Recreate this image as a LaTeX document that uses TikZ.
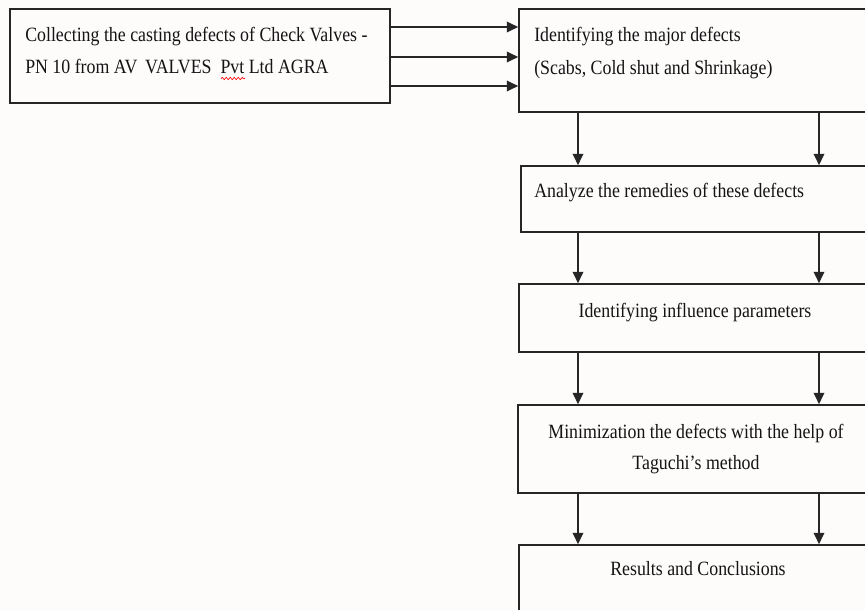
\documentclass[tikz,border=0pt]{standalone}
\usepackage{fontspec}
\setmainfont{Liberation Serif}[FakeStretch=0.88]
\usetikzlibrary{arrows.meta,fit,decorations.pathmorphing}
\definecolor{bgc}{RGB}{254,251,251}
\begin{document}
\begin{tikzpicture}[x=0.75pt,y=-0.75pt,
  box/.style={draw=black!85, line width=1.3pt, inner sep=0pt, fit={#1}},
  txt/.style={inner sep=0pt, font=\fontsize{15.2pt}{18pt}\selectfont, text=black!92},
  arr/.style={draw=black!85, line width=1.1pt, -{Triangle[length=8.5pt,width=8pt]}}]
\path[use as bounding box] (0,0) rectangle (865,610);
\clip (0,0) rectangle (865,610);
\fill[bgc] (0,0) rectangle (865,610);
% boxes
\node[box={(10,9)(390,103)}] (b1) {};
\node[box={(519,9)(873,112)}] (b2) {};
\node[box={(521,166)(873,232)}] (b3) {};
\node[box={(519,284)(873,352)}] (b4) {};
\node[box={(518,405)(873,493)}] (b5) {};
\node[box={(519,545)(873,640)}] (b6) {};
% texts
\node[txt, anchor=base west] (t1a) at (25,42) {Collecting the casting defects of Check Valves -};
\node[txt, anchor=base west] (t1b) at (25,74) {PN 10 from AV\ \,VALVES\ \ Pvt Ltd AGRA};
\draw[red, line width=0.5pt, decorate, decoration={snake, amplitude=0.8pt, segment length=3pt}] (221,78.5) -- (245,78.5);
\node[txt, anchor=base west] (t2a) at (534,42) {Identifying the major defects};
\node[txt, anchor=base west] (t2b) at (534,75) {(Scabs, Cold shut and Shrinkage)};
\node[txt, anchor=base west] (t3) at (534,198) {Analyze the remedies of these defects};
\node[txt, anchor=base] (t4) at (695,317) {Identifying influence parameters};
\node[txt, anchor=base] (t5a) at (696,438) {Minimization the defects with the help of};
\node[txt, anchor=base] (t5b) at (696,469) {Taguchi’s method};
\node[txt, anchor=base] (t6) at (698,575) {Results and Conclusions};
% arrows right
\foreach \yy in {27,57,86} {
  \draw[arr] (b1.east |- 0,\yy) -- (b2.west |- 0,\yy);
}
% arrows down
\foreach \xx in {578,819} {
  \draw[arr] (b2.south -| \xx,0) -- (b3.north -| \xx,0);
  \draw[arr] (b3.south -| \xx,0) -- (b4.north -| \xx,0);
  \draw[arr] (b4.south -| \xx,0) -- (b5.north -| \xx,0);
  \draw[arr] (b5.south -| \xx,0) -- (b6.north -| \xx,0);
}
\end{tikzpicture}
\end{document}
